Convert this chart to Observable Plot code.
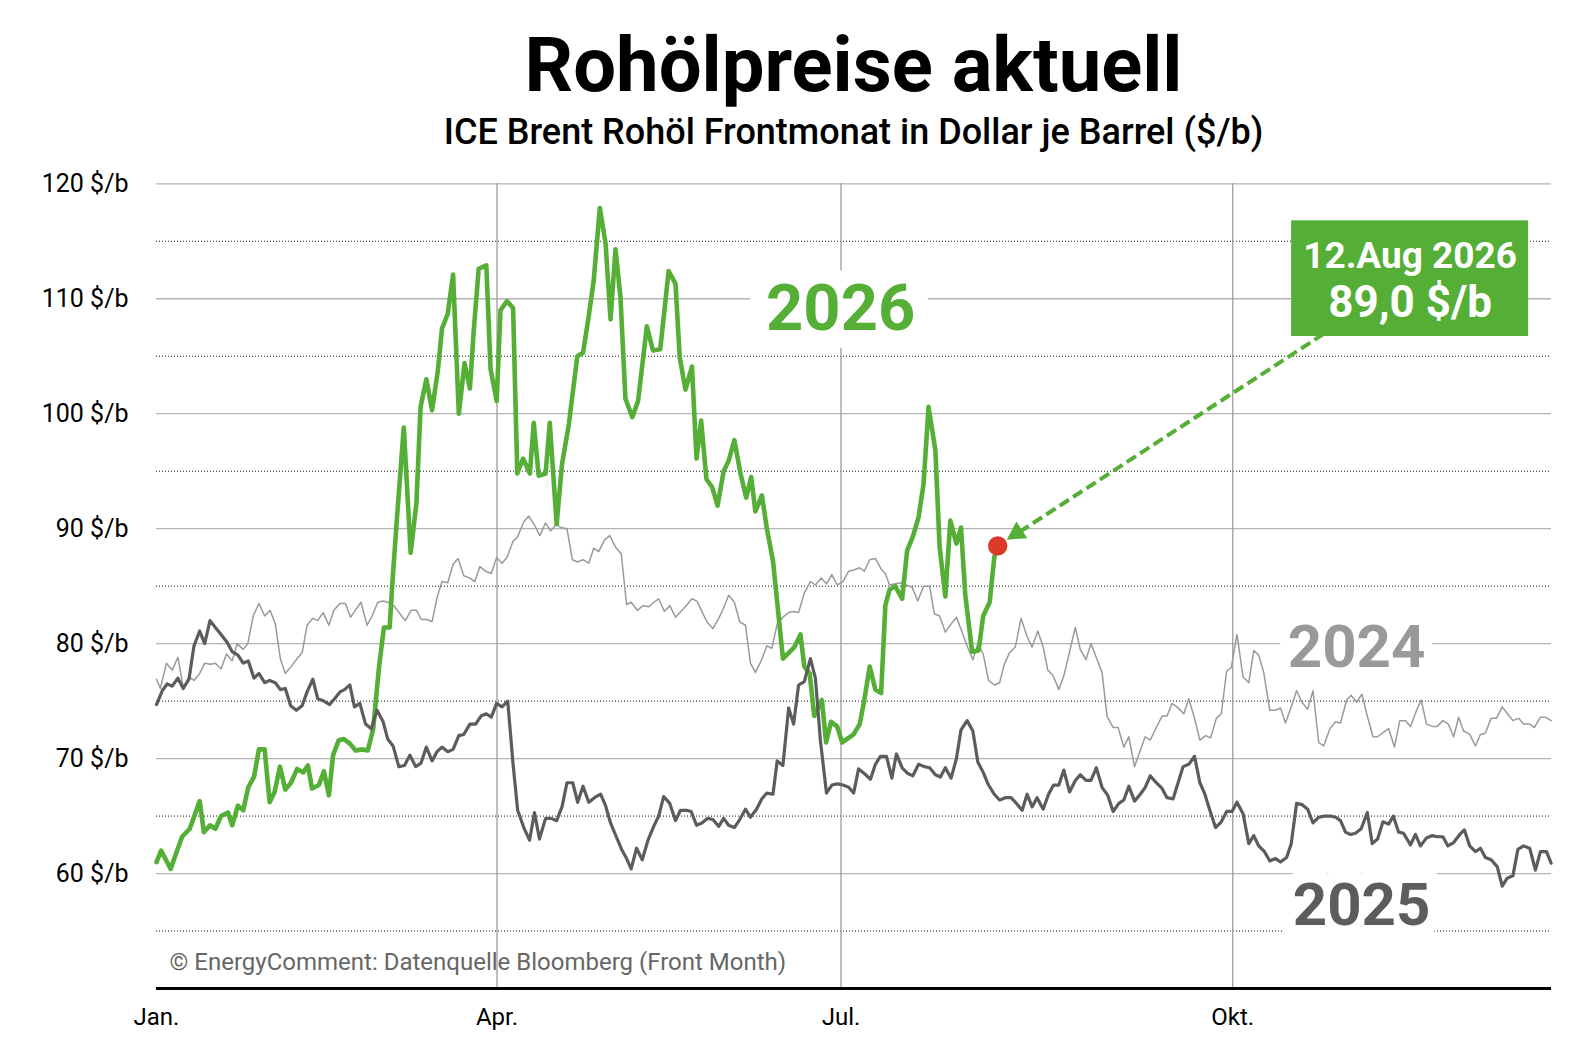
<!DOCTYPE html>
<html>
<head>
<meta charset="utf-8">
<script src="https://cdn.jsdelivr.net/npm/d3@7"></script>
<script src="https://cdn.jsdelivr.net/npm/@observablehq/plot@0.6"></script>
<style>
  body { margin: 0; background: #fff; font-family: Roboto, "Noto Sans", sans-serif; }
  #wrap { position: relative; width: 1596px; height: 1052px; overflow: hidden; }
  .title { position: absolute; left: 156px; width: 1395px; top: 27px; text-align: center;
           font: 700 76px/1 Roboto, sans-serif; color: #000; }
  .sub { position: absolute; left: 156px; width: 1395px; top: 114px; text-align: center;
         font: 500 36px/1 Roboto, sans-serif; color: #000; }
  #chart { position: absolute; left: 0; top: 160px; }
</style>
</head>
<body>
<div id="wrap">
  <div class="title">Rohölpreise aktuell</div>
  <div class="sub">ICE Brent Rohöl Frontmonat in Dollar je Barrel ($/b)</div>
  <div id="chart"></div>
</div>
<script>
// ---- data: [day of year, price $/b] ----
const brent2026 = [
[0,61.0],[1.2,62.0],[3.7,60.4],[5.4,62.0],[6.7,63.2],[8.7,63.9],[11.3,66.3],[12.4,63.6],[14.0,64.2],[15.4,63.9],
[16.9,65.0],[18.7,65.3],[19.8,64.2],[21.3,65.9],[22.7,65.5],[24.0,67.5],[25.5,68.4],[26.8,70.8],[28.3,70.8],[29.6,66.2],
[30.9,67.1],[32.3,69.3],[33.7,67.3],[35.2,67.9],[36.8,69.1],[38.4,68.8],[39.6,69.4],[40.7,67.4],[42.5,67.7],[43.8,68.9],
[45.1,66.8],[46.2,70.3],[47.7,71.6],[49.0,71.7],[50.6,71.3],[52.1,70.7],[53.8,70.8],[55.3,70.7],[56.7,72.6],[58.2,77.9],
[59.5,81.4],[61.0,81.4],[61.7,85.2],[62.8,90.4],[64.7,98.8],[66.5,87.9],[68.0,92.2],[69.1,100.6],[70.6,103.0],[72.1,100.3],
[73.6,103.7],[74.7,107.4],[76.2,108.7],[77.6,112.1],[79.1,100.0],[80.6,104.4],[82.0,102.2],[83.0,107.2],[84.3,112.6],[86.3,112.9],
[87.4,103.9],[89.0,101.1],[90.0,109.0],[91.7,109.8],[93.3,109.2],[94.4,94.8],[95.9,96.1],[97.7,94.8],[98.7,99.2],[100.0,94.6],
[101.8,94.8],[102.9,99.2],[104.7,90.4],[106.1,95.6],[107.9,99.1],[110.1,105.0],[111.6,105.3],[113.1,108.5],[114.4,111.6],[116.0,117.9],
[117.5,114.8],[118.8,108.2],[120.1,114.3],[121.4,110.1],[122.7,101.3],[124.5,99.7],[126.0,101.1],[128.3,107.6],[129.9,105.5],[131.8,105.6],
[134.0,112.4],[135.8,111.3],[136.9,104.9],[138.4,102.1],[140.1,104.1],[141.3,96.1],[142.5,99.4],[143.9,94.3],[145.4,93.6],[146.8,92.0],
[148.4,95.0],[149.7,95.9],[151.2,97.7],[152.8,94.8],[154.3,92.7],[155.6,94.5],[156.7,91.5],[158.4,92.9],[159.7,90.0],[161.3,87.2],
[162.5,83.3],[163.9,78.7],[165.4,79.2],[166.9,79.7],[168.5,80.8],[169.5,78.0],[170.9,77.4],[172.1,73.7],[174.1,75.1],[175.2,71.4],
[176.5,73.2],[178.1,72.8],[179.4,71.4],[181.1,71.8],[182.4,72.1],[184.0,73.0],[185.2,75.1],[186.6,78.0],[188.1,76.0],[189.6,75.7],
[190.7,83.3],[191.8,84.7],[193.3,85.0],[195.1,83.9],[196.4,88.1],[197.9,89.3],[199.4,91.0],[200.7,93.9],[202.0,100.6],[203.8,96.8],
[204.9,88.4],[206.4,84.1],[207.7,90.7],[209.3,88.7],[210.5,90.1],[211.6,84.3],[213.4,79.3],[215.1,79.4],[216.3,82.4],[218.0,83.6],
[219.2,87.5],[220.1,88.5]
];
const brent2025 = [
[0,74.7],[1.5,75.9],[2.8,76.5],[4.1,76.3],[5.6,77.0],[7.0,76.1],[8.5,76.9],[9.8,79.8],[11.3,81.1],[12.6,80.0],
[14.0,82.0],[15.4,81.4],[16.9,80.8],[18.5,80.1],[19.8,79.3],[21.3,79.0],[22.7,78.3],[24.0,78.5],[25.5,77.0],[26.8,77.4],
[28.3,76.6],[29.6,76.8],[31.1,76.6],[32.4,76.0],[33.7,76.1],[35.1,74.6],[36.6,74.2],[38.1,74.6],[39.4,75.8],[40.9,76.9],
[42.2,75.2],[43.8,75.0],[45.3,74.7],[46.6,75.2],[48.0,75.8],[49.2,76.0],[50.6,76.4],[51.8,74.5],[53.2,74.8],[54.7,73.0],
[56.2,72.6],[57.7,74.2],[59.3,73.2],[60.5,71.7],[61.9,71.1],[63.4,69.3],[64.9,69.4],[66.3,70.3],[67.8,69.3],[69.2,69.6],
[70.6,71.0],[72.1,69.8],[73.4,70.6],[74.7,71.0],[76.2,70.6],[77.6,70.8],[79.1,72.0],[80.4,72.1],[82.0,73.0],[83.5,73.0],
[84.9,73.7],[86.3,73.9],[87.6,73.6],[89.0,74.8],[90.4,74.5],[91.9,75.0],[93.3,69.5],[94.5,65.5],[96.1,64.0],[97.6,62.9],
[98.9,65.3],[100.2,63.0],[101.8,64.8],[103.3,64.8],[104.7,64.6],[106.1,65.8],[107.4,67.9],[108.9,67.9],[110.2,66.2],[111.6,67.6],
[113.1,66.2],[114.6,66.6],[116.2,66.9],[117.5,65.9],[118.8,64.4],[120.3,63.2],[121.7,62.1],[123.0,61.3],[124.2,60.4],[125.6,62.2],
[127.1,61.2],[128.6,62.9],[130.1,64.1],[131.4,65.0],[132.7,66.7],[134.3,66.1],[135.8,64.6],[137.1,65.5],[138.6,65.5],[139.9,65.4],
[141.3,64.2],[142.7,64.4],[144.2,64.8],[145.6,64.7],[147.1,64.1],[148.4,64.8],[149.7,64.2],[151.2,64.0],[152.6,64.7],[154.1,65.6],
[155.4,64.9],[157.0,65.6],[158.4,66.5],[159.7,67.0],[161.3,66.9],[162.4,69.8],[163.9,69.4],[165.4,74.4],[166.7,73.0],[168.0,76.4],
[169.5,76.7],[171.1,78.7],[172.4,77.0],[173.7,71.6],[175.3,67.0],[176.7,67.7],[178.2,67.8],[179.6,67.7],[181.1,67.5],[182.4,67.0],
[183.7,69.1],[185.2,68.7],[186.8,68.2],[188.1,69.5],[189.4,70.2],[191.0,70.2],[192.4,68.3],[193.6,70.4],[195.1,69.2],[196.6,68.7],
[197.9,68.5],[199.4,69.5],[200.9,69.3],[202.3,69.2],[203.8,68.6],[205.1,68.4],[206.4,69.2],[207.9,68.3],[209.3,70.0],[210.5,72.5],
[212.1,73.3],[213.6,72.4],[214.9,69.7],[216.3,68.8],[217.7,67.7],[219.2,66.9],[220.6,66.4],[222.1,66.6],[223.6,66.6],[225.0,66.1],
[226.5,65.5],[227.8,66.9],[229.1,65.8],[230.4,66.6],[232.0,65.6],[233.4,66.9],[234.7,67.7],[236.1,67.7],[237.4,69.0],[238.9,67.1],
[240.4,68.1],[241.7,68.6],[243.2,68.1],[244.5,68.1],[245.9,69.2],[247.4,67.5],[248.9,66.8],[250.3,65.4],[251.8,66.1],[253.1,66.4],
[254.4,67.6],[255.9,66.3],[257.4,66.9],[258.7,67.5],[260.0,68.5],[261.6,67.9],[263.1,67.4],[264.4,66.6],[266.0,66.5],[267.3,67.9],
[268.6,69.3],[270.1,69.5],[271.6,70.2],[273.0,67.9],[274.2,67.0],[275.6,65.5],[277.1,64.0],[278.6,64.5],[280.0,65.4],[281.4,65.4],
[282.7,66.2],[284.3,65.2],[285.8,62.6],[287.1,63.3],[288.4,62.4],[289.9,61.9],[291.3,61.1],[292.8,61.3],[294.1,61.0],[295.7,61.4],
[296.9,62.6],[298.3,66.1],[299.7,66.0],[301.2,65.6],[302.6,64.4],[304.1,64.9],[305.6,65.0],[307.2,65.0],[308.5,64.9],[309.8,64.6],
[311.1,63.6],[312.4,63.4],[313.7,63.5],[315.2,63.9],[316.8,65.3],[318.1,62.6],[319.5,63.0],[320.9,64.5],[322.4,64.3],[323.6,65.0],
[325.0,63.6],[326.3,63.5],[328.1,62.5],[329.4,63.4],[330.7,62.4],[332.3,63.1],[333.8,63.3],[335.1,63.2],[336.6,63.2],[337.9,62.4],
[339.4,62.7],[341.0,63.4],[342.2,63.8],[343.6,62.4],[345.1,61.9],[346.4,62.2],[347.7,61.4],[349.2,61.2],[350.8,60.6],[352.1,58.9],
[353.4,59.6],[354.9,59.8],[356.2,62.1],[357.7,62.4],[359.3,62.2],[360.8,60.3],[362.1,61.9],[363.7,61.9],[364.9,60.9]
];
const brent2024 = [
[0,76.9],[1.0,76.1],[2.6,78.3],[4.1,77.7],[5.6,78.8],[7.0,76.2],[8.5,77.1],[9.8,76.8],[11.3,77.4],[12.6,78.3],
[14.1,78.2],[15.4,78.3],[16.9,77.8],[18.3,79.1],[19.8,78.5],[21.1,80.0],[22.7,79.5],[23.9,80.0],[25.3,82.4],[26.8,83.5],
[28.3,82.4],[29.7,82.9],[31.1,81.7],[32.4,78.7],[33.7,77.4],[35.2,78.0],[36.8,78.7],[38.1,79.2],[39.4,81.6],[40.9,82.2],
[42.2,82.0],[43.6,82.7],[45.1,81.6],[46.4,82.9],[48.0,83.5],[49.4,83.5],[50.8,82.3],[52.2,83.0],[53.5,83.6],[55.1,81.6],
[56.4,82.4],[57.9,83.6],[59.3,83.7],[60.5,83.6],[62.1,83.3],[63.7,82.6],[65.1,82.0],[66.6,82.9],[68.0,82.9],[69.3,82.1],
[70.8,82.1],[72.1,81.9],[73.4,84.0],[74.7,85.4],[76.2,85.3],[77.6,86.9],[78.9,87.4],[80.4,85.9],[82.0,85.7],[83.3,85.4],
[84.6,86.7],[86.1,86.3],[87.6,86.1],[89.0,87.5],[90.4,87.0],[91.7,87.5],[93.3,88.9],[94.5,89.3],[96.1,90.6],[97.4,91.1],
[98.9,90.3],[100.3,89.4],[101.8,90.5],[103.1,89.8],[104.7,90.4],[105.7,90.1],[107.4,90.0],[108.8,87.3],[110.2,87.1],[111.6,87.3],
[113.1,87.0],[114.4,88.3],[115.7,88.0],[117.2,89.0],[118.6,89.4],[120.1,88.4],[121.6,87.8],[123.0,83.4],[124.2,83.6],[125.8,82.9],
[127.3,83.3],[128.8,83.2],[130.1,83.6],[131.4,83.9],[132.9,82.8],[134.3,83.3],[135.8,82.3],[137.2,82.8],[138.6,83.3],[140.1,83.9],
[141.4,83.7],[142.7,82.8],[144.0,81.9],[145.6,81.3],[147.1,82.2],[148.4,83.1],[149.7,84.2],[151.2,83.6],[152.6,81.9],[154.1,81.6],
[155.4,78.3],[156.7,77.5],[158.2,78.5],[159.7,79.8],[161.0,79.6],[162.4,81.7],[163.9,82.3],[165.4,82.7],[166.7,82.8],[168.0,82.7],
[169.5,84.4],[171.1,85.4],[172.4,85.1],[173.9,85.7],[175.3,85.2],[176.7,86.0],[178.1,85.1],[179.6,85.4],[181.1,86.3],[182.4,86.4],
[184.0,86.6],[185.2,86.3],[186.6,87.3],[188.1,87.4],[189.6,86.5],[190.7,86.1],[191.8,85.1],[193.3,85.2],[194.8,85.3],[196.2,85.1],
[197.7,84.9],[199.2,83.7],[200.7,85.0],[202.3,85.0],[203.5,82.6],[204.9,82.4],[206.4,81.0],[207.9,81.7],[209.3,82.3],[210.8,81.0],
[212.2,79.7],[213.6,78.6],[214.9,80.0],[216.3,79.1],[217.7,76.8],[219.2,76.4],[220.6,76.6],[221.8,78.2],[223.2,79.2],[224.7,79.7],
[226.2,82.2],[227.8,80.6],[229.1,79.7],[230.6,81.1],[232.0,79.7],[233.2,77.7],[234.6,77.2],[236.1,76.0],[237.4,77.2],[238.7,79.0],
[240.4,81.4],[241.7,79.5],[243.2,78.6],[244.5,80.0],[245.9,78.8],[247.4,77.5],[248.7,73.7],[250.3,72.7],[251.6,72.7],[253.1,71.0],
[254.4,71.9],[255.9,69.3],[257.4,70.7],[258.7,71.9],[260.0,71.6],[261.6,72.7],[263.1,73.7],[264.4,73.7],[265.7,74.8],[267.0,74.5],
[268.8,73.9],[270.1,75.2],[271.6,73.5],[273.0,71.6],[274.5,72.0],[275.8,71.8],[277.3,73.5],[278.6,73.9],[280.0,77.6],[281.2,77.9],
[282.7,80.8],[284.3,77.1],[285.8,76.6],[287.1,79.4],[288.4,79.0],[289.7,77.5],[291.3,74.2],[292.8,74.2],[294.1,74.4],[295.4,73.1],
[296.9,74.5],[298.3,75.9],[299.7,74.9],[301.2,74.3],[302.6,75.9],[304.1,71.4],[305.4,71.1],[307.0,72.6],[308.5,73.2],[309.8,73.1],
[311.4,75.1],[312.6,75.5],[314.0,74.9],[315.4,75.6],[316.8,73.7],[318.3,71.9],[319.5,71.9],[321.1,72.3],[322.4,72.6],[323.9,71.0],
[325.3,73.3],[326.8,73.3],[328.1,72.8],[329.7,74.2],[330.9,75.1],[332.3,73.0],[333.8,72.8],[335.1,72.8],[336.6,73.3],[338.0,73.0],
[339.4,71.9],[340.7,73.6],[342.0,72.4],[343.6,72.1],[345.1,71.1],[346.4,72.1],[347.7,72.2],[349.2,73.5],[350.6,73.5],[352.1,74.5],
[353.5,73.9],[354.9,73.3],[356.4,73.5],[357.7,73.0],[359.3,73.0],[360.5,72.7],[362.1,73.6],[363.4,73.6],[364.9,73.3]
];

const monthTicks = [0, 89.1, 179.1, 281.6];
const monthLabels = ["Jan.", "Apr.", "Jul.", "Okt."];
const yTicks = [60, 70, 80, 90, 100, 110, 120];
const yDotted = [55, 65, 75, 85, 95, 105, 115];

const yearLabels = [
  {text: "2026", day: 179.0, price: 109.06},
  {text: "2024", day: 314.0, price: 79.68},
  {text: "2025", day: 315.3, price: 57.22}
];
const lastPoint = brent2026[brent2026.length - 1];
const callout = {line1: "12.Aug 2026", line2: "89,0 $/b", day1: 297.0, day2: 359.0, top: 116.78, bottom: 106.72, cx: 328.0, y1: 113.74, y2: 109.6};
const arrowFrom = {day: 308.9, price: 107.7};
const arrowTip = {day: 222.6, price: 89.0};
const arrowBase = {day: 226.1, price: 89.78};
const caption = "© EnergyComment: Datenquelle Bloomberg (Front Month)";

const green = "#55ae35";
const lightGray = "#9a9a9a";
const darkGray = "#5c5c5c";

const rows = (arr) => arr.map(([day, price]) => ({day, price}));

const chart = Plot.plot({
  width: 1596,
  height: 892,
  marginLeft: 156,
  marginRight: 45,
  marginTop: 23.3,
  marginBottom: 64,
  style: {fontFamily: "Roboto, sans-serif", color: "#000", background: "#fff"},
  x: {domain: [0, 365]},
  y: {domain: [50, 120]},
  marks: [
    Plot.ruleY(yTicks, {stroke: "#b4b4b4", strokeWidth: 1.3}),
    Plot.ruleY(yDotted, {stroke: "#111", strokeWidth: 1, strokeDasharray: "1,2"}),
    Plot.ruleX(monthTicks.slice(1), {y1: 50, y2: 120, stroke: "#9c9c9c", strokeWidth: 1.3}),
    Plot.axisY({ticks: yTicks, tickFormat: d => `${d} $/b`, tickSize: 0, tickPadding: 28, fontSize: 25, label: null}),
    Plot.axisX({ticks: monthTicks, tickFormat: d => monthLabels[monthTicks.indexOf(d)], tickSize: 0, tickPadding: 19, fontSize: 24, label: null}),
    Plot.text(yearLabels.filter(d => d.text === "2026"), {x: "day", y: "price", text: "text", fill: green, fontSize: 65, fontWeight: "bold", stroke: "white", strokeWidth: 36, strokeLinejoin: "round", paintOrder: "stroke"}),
    Plot.text(yearLabels.filter(d => d.text === "2024"), {x: "day", y: "price", text: "text", fill: "#999999", fontSize: 60, fontWeight: "bold", stroke: "white", strokeWidth: 22, strokeLinejoin: "round", paintOrder: "stroke"}),
    Plot.text(yearLabels.filter(d => d.text === "2025"), {x: "day", y: "price", text: "text", fill: "#5c5c5c", fontSize: 60, fontWeight: "bold", stroke: "white", strokeWidth: 28, strokeLinejoin: "round", paintOrder: "stroke"}),
    Plot.text([caption], {x: 3.4, y: 52.3, text: d => d, textAnchor: "start", lineAnchor: "middle", fontSize: 24, fill: "#666"}),
    Plot.ruleY([50], {stroke: "#000", strokeWidth: 3}),
    Plot.line(rows(brent2024), {x: "day", y: "price", stroke: lightGray, strokeWidth: 1.5}),
    Plot.line(rows(brent2026), {x: "day", y: "price", stroke: green, strokeWidth: 4.6}),
    Plot.line(rows(brent2025), {x: "day", y: "price", stroke: darkGray, strokeWidth: 3.2}),
    Plot.link([0], {x1: arrowFrom.day, y1: arrowFrom.price, x2: arrowBase.day, y2: arrowBase.price, stroke: green, strokeWidth: 4, strokeDasharray: "11,5"}),
    Plot.rect([0], {x1: callout.day1, x2: callout.day2, y1: callout.bottom, y2: callout.top, fill: green}),
    Plot.text([callout.line1], {x: callout.cx, y: callout.y1, text: d => d, fill: "white", fontSize: 37, fontWeight: "bold"}),
    Plot.text([callout.line2], {x: callout.cx, y: callout.y2, text: d => d, fill: "white", fontSize: 44, fontWeight: "bold"}),
    Plot.dot([lastPoint], {x: d => d[0], y: d => d[1], r: 9.7, fill: "#dc3a28", stroke: "none"})
  ]
});

// filled arrow head placed through the plot's scales
const sx = chart.scale("x"), sy = chart.scale("y");
const tx = sx.apply(arrowTip.day), ty = sy.apply(arrowTip.price);
const fx = sx.apply(arrowFrom.day), fy = sy.apply(arrowFrom.price);
let ux = tx - fx, uy = ty - fy; const len = Math.hypot(ux, uy); ux /= len; uy /= len;
const hl = 18, hw = 10;
const bx = tx - ux * hl, by = ty - uy * hl;
const pts = [[tx, ty], [bx - uy * hw, by + ux * hw], [bx + uy * hw, by - ux * hw]];
d3.select(chart).append("polygon").attr("points", pts.map(p => p.join(",")).join(" ")).attr("fill", green);

document.getElementById("chart").appendChild(chart);
</script>
</body>
</html>
